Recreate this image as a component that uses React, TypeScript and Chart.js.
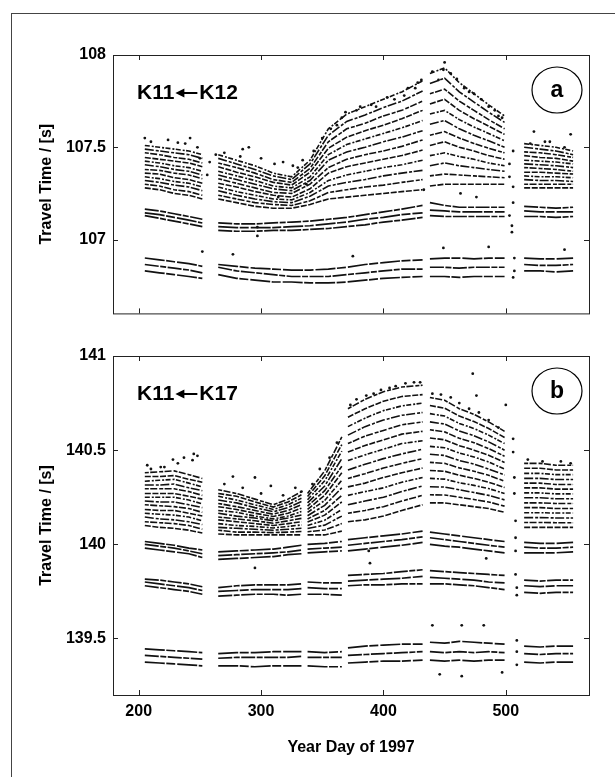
import React, { useEffect, useRef } from 'react';
import { Chart, registerables } from 'chart.js';
Chart.register(...registerables);

// ---------- shared axis values ----------
const X_TICKS = [200, 300, 400, 500];
const X_MIN = 179;
const X_MAX = 568;

// ---------- panel a : K11 <- K12 ----------
const A_YTICKS = [107, 107.5, 108];
const A_DAYS = [205, 217, 229, 241, 252, 265, 280, 295, 310, 325, 340, 355, 370, 385, 400, 415, 432, 438, 450, 462, 474, 486, 499, 515, 528, 541, 555];
const A_BREAKS = [258, 435, 507];

const A_LOW = [
  [106.83, 106.82, 106.81, 106.8, 106.79, 106.81, 106.79, 106.78, 106.77, 106.77, 106.765, 106.765, 106.77, 106.78, 106.79, 106.795, 106.8, 106.8, 106.8, 106.795, 106.8, 106.8, 106.8, 106.83, 106.83, 106.825, 106.83],
  [106.865, 106.855, 106.845, 106.835, 106.82, 106.85, 106.83, 106.82, 106.81, 106.8, 106.8, 106.8, 106.81, 106.82, 106.83, 106.84, 106.84, 106.85, 106.85, 106.845, 106.85, 106.85, 106.85, 106.865, 106.86, 106.86, 106.865],
  [106.9, 106.89, 106.88, 106.87, 106.855, 106.865, 106.855, 106.845, 106.84, 106.835, 106.835, 106.84, 106.85, 106.865, 106.875, 106.885, 106.89, 106.895, 106.9, 106.9, 106.895, 106.9, 106.9, 106.9, 106.895, 106.895, 106.9],
];
const A_MID = [
  [107.13, 107.115, 107.1, 107.085, 107.07, 107.05, 107.045, 107.045, 107.05, 107.05, 107.055, 107.06, 107.07, 107.08, 107.095, 107.105, 107.12, 107.13, 107.125, 107.125, 107.125, 107.125, 107.125, 107.125, 107.125, 107.12, 107.125],
  [107.145, 107.135, 107.12, 107.105, 107.09, 107.07, 107.065, 107.065, 107.065, 107.07, 107.075, 107.085, 107.095, 107.11, 107.12, 107.135, 107.145, 107.16, 107.155, 107.15, 107.15, 107.15, 107.15, 107.155, 107.15, 107.15, 107.15],
  [107.165, 107.155, 107.14, 107.125, 107.11, 107.09, 107.085, 107.085, 107.09, 107.095, 107.1, 107.11, 107.12, 107.135, 107.15, 107.165, 107.185, 107.2, 107.185, 107.175, 107.175, 107.175, 107.175, 107.18, 107.175, 107.17, 107.175],
];
const A_CLOUD = [
  [107.28, 107.27, 107.25, 107.24, 107.22, 107.22, 107.2, 107.18, 107.17, 107.17, 107.19, 107.22, 107.23, 107.24, 107.25, 107.26, 107.27, 107.29, 107.3, 107.3, 107.3, 107.3, 107.3, 107.28, 107.28, 107.28, 107.28],
  [107.3, 107.29, 107.27, 107.26, 107.24, 107.24, 107.22, 107.2, 107.19, 107.185, 107.21, 107.255, 107.27, 107.285, 107.295, 107.31, 107.325, 107.345, 107.355, 107.35, 107.345, 107.34, 107.335, 107.3, 107.3, 107.3, 107.3],
  [107.32, 107.31, 107.295, 107.285, 107.265, 107.265, 107.24, 107.22, 107.205, 107.2, 107.235, 107.29, 107.31, 107.325, 107.345, 107.36, 107.375, 107.4, 107.415, 107.4, 107.39, 107.38, 107.37, 107.325, 107.32, 107.32, 107.315],
  [107.34, 107.33, 107.315, 107.305, 107.285, 107.285, 107.26, 107.24, 107.22, 107.215, 107.255, 107.32, 107.35, 107.37, 107.39, 107.405, 107.43, 107.455, 107.47, 107.45, 107.435, 107.415, 107.4, 107.345, 107.34, 107.34, 107.335],
  [107.36, 107.355, 107.335, 107.325, 107.305, 107.305, 107.285, 107.26, 107.24, 107.23, 107.275, 107.36, 107.395, 107.415, 107.435, 107.455, 107.485, 107.51, 107.53, 107.5, 107.48, 107.455, 107.435, 107.365, 107.365, 107.36, 107.355],
  [107.38, 107.375, 107.36, 107.35, 107.33, 107.33, 107.305, 107.28, 107.255, 107.25, 107.3, 107.39, 107.435, 107.46, 107.48, 107.505, 107.54, 107.565, 107.585, 107.55, 107.52, 107.495, 107.47, 107.39, 107.385, 107.38, 107.37],
  [107.405, 107.395, 107.38, 107.37, 107.35, 107.35, 107.325, 107.3, 107.275, 107.265, 107.32, 107.43, 107.475, 107.5, 107.53, 107.555, 107.59, 107.625, 107.645, 107.6, 107.565, 107.535, 107.5, 107.41, 107.405, 107.4, 107.39],
  [107.425, 107.415, 107.4, 107.39, 107.37, 107.37, 107.345, 107.32, 107.29, 107.28, 107.34, 107.46, 107.515, 107.545, 107.575, 107.605, 107.645, 107.68, 107.7, 107.65, 107.61, 107.575, 107.535, 107.43, 107.425, 107.42, 107.41],
  [107.445, 107.435, 107.425, 107.415, 107.395, 107.395, 107.365, 107.34, 107.31, 107.295, 107.365, 107.495, 107.555, 107.59, 107.62, 107.655, 107.7, 107.735, 107.76, 107.7, 107.655, 107.615, 107.57, 107.455, 107.445, 107.44, 107.425],
  [107.47, 107.46, 107.445, 107.435, 107.415, 107.415, 107.39, 107.36, 107.325, 107.31, 107.385, 107.53, 107.6, 107.63, 107.67, 107.7, 107.75, 107.79, 107.815, 107.75, 107.7, 107.65, 107.6, 107.475, 107.47, 107.46, 107.445],
  [107.49, 107.48, 107.47, 107.46, 107.44, 107.44, 107.41, 107.38, 107.345, 107.325, 107.41, 107.565, 107.64, 107.675, 107.715, 107.75, 107.805, 107.845, 107.875, 107.8, 107.745, 107.69, 107.635, 107.5, 107.49, 107.48, 107.46],
  [107.51, 107.5, 107.49, 107.48, 107.46, 107.46, 107.43, 107.4, 107.36, 107.34, 107.43, 107.6, 107.68, 107.72, 107.76, 107.8, 107.86, 107.9, 107.93, 107.85, 107.79, 107.73, 107.67, 107.52, 107.51, 107.5, 107.48],
];
const A_DOT_DAYS = [450, 449, 445, 431, 426, 417, 474, 486, 494, 409, 394, 381, 369, 362, 553, 523, 532, 506, 505, 505, 503, 506, 506, 506, 507, 507, 252, 277, 375, 449, 486, 548, 297, 297, 285, 242, 224, 205, 250, 311, 330, 314, 337, 263, 463, 476, 433, 503, 503,
  270, 283, 290, 300, 318, 326, 334, 343, 350, 357, 366, 378, 390, 403, 420, 428, 440, 455, 460, 466, 470, 480, 491, 497, 210, 232, 238, 248, 520, 536, 548, 258, 256];
const A_DOT_VALUES = [107.96, 107.92, 107.865, 107.865, 107.82, 107.78, 107.79, 107.72, 107.67, 107.76, 107.72, 107.72, 107.69, 107.62, 107.57, 107.585, 107.53, 107.48, 107.075, 107.04, 107.13, 107.286, 107.2, 106.795, 106.83, 106.9, 106.935, 106.92, 106.91, 106.955, 106.96, 106.945, 107.067, 107.02, 107.49, 107.55, 107.54, 107.55, 107.44, 107.41, 107.39, 107.23, 107.3, 107.46, 107.25, 107.23, 107.27, 107.34, 107.41,
  107.47, 107.45, 107.5, 107.44, 107.42, 107.4, 107.43, 107.48, 107.55, 107.6, 107.66, 107.7, 107.73, 107.77, 107.82, 107.85, 107.91, 107.9, 107.87, 107.82, 107.8, 107.76, 107.7, 107.66, 107.53, 107.525, 107.52, 107.5, 107.52, 107.53, 107.5, 107.42, 107.35];

// ---------- panel b : K11 <- K17 ----------
const B_YTICKS = [139.5, 140, 140.5, 141];
const B_DAYS = [205, 217, 229, 241, 252, 265, 280, 295, 310, 322, 333, 338, 352, 366, 371, 385, 400, 415, 432, 438, 450, 462, 474, 486, 499, 515, 528, 541, 555];
const B_BREAKS = [258, 335.5, 368.5, 435, 507];

const B_LOW = [
  [139.375, 139.37, 139.365, 139.36, 139.355, 139.355, 139.355, 139.35, 139.355, 139.355, 139.355, 139.355, 139.35, 139.35, 139.37, 139.375, 139.38, 139.38, 139.385, 139.385, 139.38, 139.385, 139.38, 139.385, 139.385, 139.375, 139.37, 139.375, 139.375],
  [139.41, 139.405, 139.4, 139.395, 139.39, 139.395, 139.4, 139.4, 139.4, 139.4, 139.405, 139.4, 139.4, 139.4, 139.41, 139.415, 139.42, 139.425, 139.43, 139.43, 139.425, 139.43, 139.425, 139.43, 139.425, 139.42, 139.415, 139.42, 139.42],
  [139.445, 139.44, 139.435, 139.43, 139.425, 139.42, 139.425, 139.425, 139.43, 139.43, 139.43, 139.43, 139.425, 139.43, 139.45, 139.46, 139.465, 139.47, 139.47, 139.48, 139.475, 139.485, 139.48, 139.475, 139.47, 139.46, 139.455, 139.46, 139.46],
];
const B_MID = [
  [139.78, 139.77, 139.76, 139.75, 139.735, 139.725, 139.73, 139.735, 139.735, 139.73, 139.735, 139.735, 139.735, 139.73, 139.78, 139.785, 139.785, 139.79, 139.79, 139.79, 139.79, 139.785, 139.78, 139.77, 139.76, 139.745, 139.74, 139.745, 139.745],
  [139.8, 139.79, 139.78, 139.77, 139.755, 139.75, 139.755, 139.76, 139.76, 139.76, 139.765, 139.77, 139.765, 139.765, 139.805, 139.81, 139.815, 139.82, 139.83, 139.825, 139.82, 139.815, 139.81, 139.8, 139.795, 139.78, 139.775, 139.78, 139.78],
  [139.815, 139.81, 139.8, 139.79, 139.775, 139.77, 139.78, 139.785, 139.785, 139.785, 139.79, 139.8, 139.795, 139.795, 139.835, 139.84, 139.845, 139.855, 139.865, 139.86, 139.855, 139.85, 139.845, 139.84, 139.835, 139.81, 139.805, 139.81, 139.81],
];
const B_NEAR = [
  [139.98, 139.97, 139.96, 139.95, 139.93, 139.92, 139.925, 139.93, 139.935, 139.945, 139.95, 139.955, 139.96, 139.965, 139.965, 139.975, 139.985, 139.995, 140.01, 140.0, 139.99, 139.985, 139.975, 139.965, 139.955, 139.955, 139.955, 139.955, 139.96],
  [140.0, 139.99, 139.98, 139.965, 139.95, 139.94, 139.945, 139.95, 139.955, 139.96, 139.97, 139.975, 139.98, 139.985, 139.995, 140.005, 140.015, 140.025, 140.04, 140.035, 140.025, 140.015, 140.005, 139.995, 139.985, 139.985, 139.98, 139.98, 139.985],
  [140.015, 140.005, 139.995, 139.98, 139.97, 139.96, 139.965, 139.97, 139.975, 139.985, 139.995, 140.0, 140.005, 140.015, 140.025, 140.035, 140.045, 140.055, 140.07, 140.065, 140.055, 140.045, 140.035, 140.025, 140.015, 140.01, 140.005, 140.005, 140.01],
];
const B_CLOUD = [
  [140.1, 140.09, 140.085, 140.075, 140.06, 140.055, 140.05, 140.05, 140.05, 140.05, 140.05, 140.05, 140.05, 140.07, 140.12, 140.13, 140.15, 140.18, 140.21, 140.22, 140.22, 140.21, 140.2, 140.19, 140.17, 140.09, 140.09, 140.09, 140.09],
  [140.12, 140.115, 140.11, 140.1, 140.08, 140.075, 140.065, 140.065, 140.062, 140.065, 140.068, 140.067, 140.076, 140.11, 140.165, 140.18, 140.2, 140.23, 140.26, 140.263, 140.262, 140.25, 140.238, 140.225, 140.203, 140.116, 140.116, 140.115, 140.115],
  [140.145, 140.135, 140.13, 140.12, 140.105, 140.09, 140.085, 140.08, 140.075, 140.08, 140.085, 140.084, 140.102, 140.15, 140.21, 140.23, 140.25, 140.28, 140.31, 140.306, 140.304, 140.29, 140.275, 140.26, 140.236, 140.142, 140.142, 140.14, 140.14],
  [140.165, 140.16, 140.155, 140.145, 140.125, 140.11, 140.1, 140.095, 140.087, 140.095, 140.103, 140.1, 140.128, 140.185, 140.26, 140.28, 140.3, 140.33, 140.355, 140.35, 140.346, 140.327, 140.313, 140.296, 140.27, 140.168, 140.168, 140.166, 140.166],
  [140.185, 140.18, 140.18, 140.165, 140.15, 140.13, 140.12, 140.11, 140.1, 140.11, 140.12, 140.118, 140.155, 140.225, 140.305, 140.325, 140.355, 140.38, 140.405, 140.392, 140.388, 140.367, 140.35, 140.33, 140.302, 140.195, 140.195, 140.19, 140.19],
  [140.21, 140.205, 140.2, 140.19, 140.17, 140.145, 140.135, 140.125, 140.112, 140.125, 140.138, 140.135, 140.18, 140.26, 140.35, 140.375, 140.405, 140.43, 140.455, 140.435, 140.43, 140.406, 140.388, 140.367, 140.335, 140.22, 140.22, 140.217, 140.217],
  [140.23, 140.225, 140.225, 140.21, 140.195, 140.165, 140.15, 140.14, 140.125, 140.14, 140.156, 140.152, 140.207, 140.3, 140.395, 140.425, 140.455, 140.48, 140.505, 140.478, 140.472, 140.445, 140.426, 140.4, 140.368, 140.247, 140.247, 140.242, 140.242],
  [140.25, 140.25, 140.25, 140.235, 140.215, 140.18, 140.17, 140.15, 140.135, 140.15, 140.174, 140.17, 140.233, 140.34, 140.445, 140.475, 140.505, 140.535, 140.55, 140.52, 140.513, 140.485, 140.464, 140.437, 140.4, 140.273, 140.273, 140.268, 140.268],
  [140.27, 140.27, 140.27, 140.255, 140.24, 140.2, 140.185, 140.165, 140.148, 140.165, 140.192, 140.186, 140.26, 140.38, 140.49, 140.525, 140.555, 140.585, 140.6, 140.565, 140.555, 140.524, 140.5, 140.473, 140.435, 140.3, 140.3, 140.293, 140.293],
  [140.295, 140.295, 140.295, 140.28, 140.26, 140.217, 140.2, 140.18, 140.16, 140.18, 140.21, 140.203, 140.285, 140.415, 140.535, 140.575, 140.605, 140.635, 140.65, 140.608, 140.597, 140.563, 140.54, 140.508, 140.468, 140.325, 140.325, 140.318, 140.318],
  [140.315, 140.315, 140.32, 140.3, 140.285, 140.235, 140.22, 140.195, 140.173, 140.195, 140.227, 140.22, 140.31, 140.455, 140.58, 140.625, 140.66, 140.685, 140.7, 140.65, 140.639, 140.602, 140.577, 140.544, 140.5, 140.35, 140.35, 140.344, 140.344],
  [140.335, 140.34, 140.345, 140.325, 140.305, 140.255, 140.235, 140.21, 140.185, 140.21, 140.245, 140.237, 140.337, 140.495, 140.625, 140.67, 140.71, 140.735, 140.75, 140.694, 140.681, 140.642, 140.615, 140.58, 140.535, 140.377, 140.377, 140.37, 140.37],
  [140.36, 140.36, 140.365, 140.345, 140.33, 140.27, 140.255, 140.225, 140.198, 140.225, 140.263, 140.254, 140.364, 140.53, 140.675, 140.72, 140.76, 140.785, 140.795, 140.737, 140.723, 140.681, 140.652, 140.615, 140.567, 140.404, 140.404, 140.395, 140.395],
  [140.38, 140.385, 140.39, 140.37, 140.35, 140.29, 140.27, 140.24, 140.21, 140.24, 140.28, 140.27, 140.39, 140.57, 140.72, 140.77, 140.81, 140.835, 140.845, 140.78, 140.765, 140.72, 140.69, 140.65, 140.6, 140.43, 140.43, 140.42, 140.42],
];
const B_DOT_DAYS = [473, 476, 500, 440, 464, 482, 446, 464, 497, 228, 237, 245, 248, 244, 232, 207, 221, 277, 295, 308, 333, 295, 389, 388, 484, 506, 506, 507, 507, 508, 508, 508, 508, 509, 509, 509, 509, 509,
  373, 378, 386, 392, 398, 405, 410, 418, 425, 430, 440, 447, 455, 462, 470, 478, 486, 494, 342, 348, 356, 362, 270, 285, 300, 318, 328, 518, 530, 545, 553, 210, 218];
const B_DOT_VALUES = [140.906, 140.79, 140.74, 139.57, 139.57, 139.57, 139.31, 139.3, 139.32, 140.45, 140.46, 140.48, 140.47, 140.447, 140.43, 140.42, 140.41, 140.36, 140.355, 140.31, 140.28, 139.875, 139.9, 139.965, 139.925, 140.56, 140.49, 140.355, 140.27, 140.125, 140.035, 139.965, 139.84, 139.77, 139.73, 139.49, 139.43, 139.36,
  140.74, 140.77, 140.79, 140.8, 140.82, 140.83, 140.84, 140.855, 140.86, 140.86, 140.8, 140.795, 140.78, 140.75, 140.72, 140.7, 140.66, 140.62, 140.32, 140.4, 140.46, 140.54, 140.32, 140.3, 140.27, 140.26, 140.3, 140.45, 140.44, 140.44, 140.43, 140.4, 140.41];

// ---------- helpers ----------
const FONT = '"Liberation Sans", Arial, Helvetica, sans-serif';
const DASHES = [[6, 1.6], [4, 1.4, 7, 2], [9, 2, 3, 1.5], [5, 2, 2, 1.4]];

function series(days: number[], breaks: number[], vals: number[]) {
  const pts: { x: number; y: number | null }[] = [];
  for (let i = 0; i < days.length; i++) {
    if (i > 0) {
      for (const b of breaks) {
        if (b > days[i - 1] && b < days[i]) pts.push({ x: b, y: null });
      }
    }
    pts.push({ x: days[i], y: vals[i] });
  }
  return pts;
}

function lineSet(data: any[], dash: number[], width: number) {
  return {
    data,
    borderColor: '#111',
    borderWidth: width,
    borderDash: dash,
    pointRadius: 0,
    tension: 0,
    spanGaps: false,
    fill: false,
  };
}

const decorPlugin = {
  id: 'decor',
  afterDraw(chart: any) {
    const { ctx, chartArea } = chart;
    const { left, right, top, bottom } = chartArea;
    const xs = chart.scales.x;
    const ys = chart.scales.y;
    const o = chart.options.plugins.decor;
    ctx.save();
    ctx.strokeStyle = '#222';
    ctx.lineWidth = 1;
    ctx.strokeRect(left + 0.5, top + 0.5, right - left, bottom - top);
    ctx.beginPath();
    xs.ticks.forEach((t: any) => {
      const px = Math.round(xs.getPixelForValue(t.value)) + 0.5;
      ctx.moveTo(px, bottom);
      ctx.lineTo(px, bottom - 5);
      ctx.moveTo(px, top);
      ctx.lineTo(px, top + 5);
    });
    ys.ticks.forEach((t: any) => {
      const py = Math.round(ys.getPixelForValue(t.value)) + 0.5;
      ctx.moveTo(left, py);
      ctx.lineTo(left + 5, py);
      ctx.moveTo(right, py);
      ctx.lineTo(right - 5, py);
    });
    ctx.stroke();
    // path label: "K11 <- K1x" with a filled arrow
    ctx.fillStyle = '#000';
    ctx.strokeStyle = '#000';
    ctx.font = 'bold 21px ' + FONT;
    ctx.textBaseline = 'middle';
    ctx.textAlign = 'left';
    const ly = top + 38;
    const x0 = 137;
    ctx.fillText(o.from, x0, ly);
    const w1 = ctx.measureText(o.from).width;
    const ax = x0 + w1 + 1;
    ctx.beginPath();
    ctx.moveTo(ax, ly);
    ctx.lineTo(ax + 9, ly - 4.5);
    ctx.lineTo(ax + 9, ly + 4.5);
    ctx.closePath();
    ctx.fill();
    ctx.lineWidth = 2;
    ctx.beginPath();
    ctx.moveTo(ax + 8, ly);
    ctx.lineTo(ax + 22, ly);
    ctx.stroke();
    ctx.fillText(o.to, ax + 24, ly);
    // circled letter
    ctx.lineWidth = 1.2;
    ctx.beginPath();
    ctx.ellipse(557, top + 35, 25, 23, 0, 0, Math.PI * 2);
    ctx.stroke();
    ctx.font = 'bold 23px ' + FONT;
    ctx.textAlign = 'center';
    ctx.fillText(o.letter, 557, top + 36);
    ctx.restore();
  },
};

function makeConfig(p: {
  datasets: any[];
  yMin: number;
  yMax: number;
  yTicks: number[];
  showX: boolean;
  padTop: number;
  xHeight: number;
  from: string;
  to: string;
  letter: string;
}) {
  return {
    type: 'line',
    data: { datasets: p.datasets },
    plugins: [decorPlugin],
    options: {
      animation: false,
      responsive: false,
      maintainAspectRatio: false,
      events: [],
      layout: { padding: { left: 0, right: 26, top: p.padTop, bottom: 0 } },
      plugins: {
        legend: { display: false },
        tooltip: { enabled: false },
        decor: { from: p.from, to: p.to, letter: p.letter },
      },
      scales: {
        x: {
          type: 'linear',
          min: X_MIN,
          max: X_MAX,
          afterBuildTicks: (s: any) => {
            s.ticks = X_TICKS.map((v) => ({ value: v }));
          },
          afterFit: (s: any) => {
            s.height = p.xHeight;
          },
          grid: { display: false, drawTicks: false },
          border: { display: false },
          ticks: {
            display: p.showX,
            padding: 7,
            color: '#000',
            font: { family: FONT, size: 16, weight: 'bold' },
            maxRotation: 0,
            callback: (v: any) => String(v),
          },
          title: {
            display: p.showX,
            text: 'Year Day of 1997',
            color: '#000',
            font: { family: FONT, size: 16, weight: 'bold' },
            padding: { top: 0, bottom: 20 },
          },
        },
        y: {
          type: 'linear',
          min: p.yMin,
          max: p.yMax,
          afterBuildTicks: (s: any) => {
            s.ticks = p.yTicks.map((v) => ({ value: v }));
          },
          afterFit: (s: any) => {
            s.width = 113;
          },
          grid: { display: false, drawTicks: false },
          border: { display: false },
          ticks: {
            padding: 7,
            color: '#000',
            font: { family: FONT, size: 16, weight: 'bold' },
            callback: (v: any) => String(+v),
          },
          title: {
            display: true,
            text: 'Travel Time / [s]',
            color: '#000',
            font: { family: FONT, size: 16, weight: 'bold' },
            padding: { top: 37, bottom: 0 },
          },
        },
      },
    },
  };
}

function buildSets(days: number[], breaks: number[], groups: number[][][], cloud: number[][], dotDays: number[], dotVals: number[]) {
  const sets: any[] = [];
  let n = 0;
  groups.forEach((g) =>
    g.forEach((v) => {
      sets.push(lineSet(series(days, breaks, v), n % 2 ? [14, 1.5, 6, 1.5] : [20, 1.5, 9, 2], 1.7));
      n++;
    })
  );
  cloud.forEach((v, i) => sets.push(lineSet(series(days, breaks, v), DASHES[i % DASHES.length], 1.6)));
  sets.push({
    data: dotDays.map((d, i) => ({ x: d, y: dotVals[i] })),
    showLine: false,
    pointRadius: 1.4,
    pointBorderWidth: 0,
    pointBackgroundColor: '#111',
    borderColor: '#111',
  });
  return sets;
}

export default function App() {
  const refA = useRef<HTMLCanvasElement>(null);
  const refB = useRef<HTMLCanvasElement>(null);

  useEffect(() => {
    const chartA = new Chart(
      refA.current as HTMLCanvasElement,
      makeConfig({
        datasets: buildSets(A_DAYS, A_BREAKS, [A_LOW, A_MID], A_CLOUD, A_DOT_DAYS, A_DOT_VALUES),
        yMin: 106.6,
        yMax: 108,
        yTicks: A_YTICKS,
        showX: false,
        padTop: 55,
        xHeight: 11,
        from: 'K11',
        to: 'K12',
        letter: 'a',
      }) as any
    );
    const chartB = new Chart(
      refB.current as HTMLCanvasElement,
      makeConfig({
        datasets: buildSets(B_DAYS, B_BREAKS, [B_LOW, B_MID, B_NEAR], B_CLOUD, B_DOT_DAYS, B_DOT_VALUES),
        yMin: 139.2,
        yMax: 141,
        yTicks: B_YTICKS,
        showX: true,
        padTop: 26,
        xHeight: 82,
        from: 'K11',
        to: 'K17',
        letter: 'b',
      }) as any
    );
    return () => {
      chartA.destroy();
      chartB.destroy();
    };
  }, []);

  return (
    <div style={{ position: 'absolute', left: 0, top: 0, width: 615, height: 777, overflow: 'hidden', background: '#fff' }}>
      <div style={{ position: 'absolute', left: 11, top: 13, width: 900, height: 1000, borderLeft: '1.5px solid #444', borderTop: '1.5px solid #444' }} />
      <canvas ref={refA} width={615} height={330} style={{ position: 'absolute', left: 0, top: 0, width: 615, height: 330 }} />
      <canvas ref={refB} width={615} height={447} style={{ position: 'absolute', left: 0, top: 330, width: 615, height: 447 }} />
    </div>
  );
}
